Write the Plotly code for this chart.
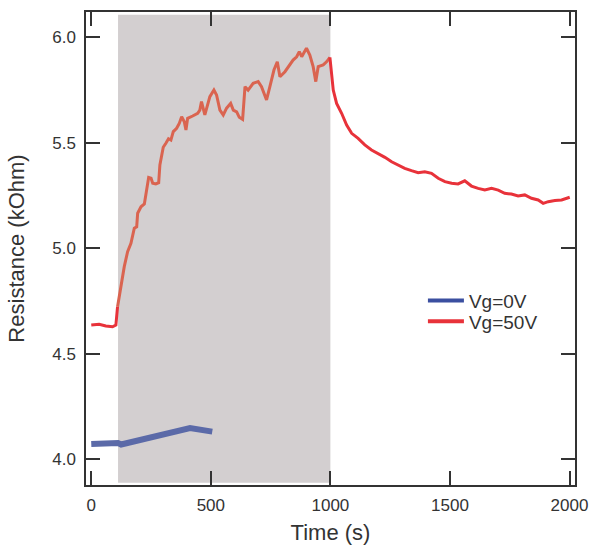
import plotly.graph_objects as go

# ---- data ----
t_red = [0, 33, 61, 89, 103, 110, 124, 138, 152, 166, 180, 190, 194, 208, 222, 229, 240, 250, 257, 270,
         282, 287, 301, 312, 323, 333, 343, 357, 368, 378, 389, 396, 403, 424, 445, 454, 461, 475, 496,
         513, 524, 538, 552, 566, 583, 594, 608, 619, 633, 643, 656, 677, 698, 712, 733, 747, 764, 778,
         789, 810, 831, 844, 859, 870, 880, 900, 914, 928, 939, 949, 970, 984, 998, 1005, 1012, 1026,
         1047, 1068, 1089, 1116, 1144, 1172, 1200, 1228, 1256, 1283, 1311, 1339, 1367, 1395, 1423, 1451,
         1479, 1507, 1534, 1562, 1590, 1618, 1646, 1674, 1702, 1729, 1757, 1785, 1813, 1841, 1869, 1890,
         1911, 1939, 1967, 2001]
r_red = [4.636, 4.640, 4.632, 4.628, 4.636, 4.723, 4.818, 4.913, 4.984, 5.024, 5.095, 5.102, 5.166, 5.197,
         5.210, 5.261, 5.336, 5.332, 5.308, 5.305, 5.311, 5.395, 5.479, 5.498, 5.519, 5.513, 5.553, 5.569,
         5.592, 5.624, 5.600, 5.561, 5.616, 5.627, 5.640, 5.655, 5.695, 5.632, 5.719, 5.750, 5.727, 5.655,
         5.632, 5.664, 5.687, 5.655, 5.647, 5.621, 5.611, 5.766, 5.750, 5.782, 5.790, 5.766, 5.703, 5.766,
         5.845, 5.884, 5.813, 5.837, 5.869, 5.892, 5.908, 5.932, 5.908, 5.948, 5.916, 5.861, 5.790, 5.861,
         5.869, 5.884, 5.905, 5.829, 5.750, 5.687, 5.640, 5.584, 5.545, 5.521, 5.490, 5.466, 5.450, 5.431,
         5.410, 5.395, 5.379, 5.368, 5.358, 5.363, 5.355, 5.332, 5.316, 5.308, 5.305, 5.320, 5.295, 5.284,
         5.276, 5.284, 5.276, 5.261, 5.257, 5.248, 5.253, 5.237, 5.229, 5.213, 5.221, 5.226, 5.229, 5.242]

t_blue = [0, 112, 125, 413, 506]
r_blue = [4.072, 4.077, 4.070, 4.148, 4.131]

shade_start = 112
shade_end = 1000

series_names = ["Vg=0V", "Vg=50V"]
x_ticks = [0, 500, 1000, 1500, 2000]
y_ticks = [4.0, 4.5, 5.0, 5.5, 6.0]

# ---- styles ----
RED = "#e8323a"
SALMON = "#da6450"
BLUE_LINE = "#5b6aa8"
BLUE_LEG = "#3b4fa0"
AX = "#333333"
FONT = "Arial, Liberation Sans, sans-serif"

fig = go.Figure()

# split red series into segments (outside / inside shaded window)
idx_a = [i for i, t in enumerate(t_red) if t <= 110]
idx_b = [i for i, t in enumerate(t_red) if 110 <= t <= 998]
idx_c = [i for i, t in enumerate(t_red) if t >= 998]
for idx, col in [(idx_a, RED), (idx_b, SALMON), (idx_c, RED)]:
    fig.add_trace(go.Scatter(x=[t_red[i] for i in idx], y=[r_red[i] for i in idx],
                             mode="lines", line=dict(color=col, width=3),
                             showlegend=False, hoverinfo="skip"))

fig.add_trace(go.Scatter(x=t_blue, y=r_blue, mode="lines",
                         line=dict(color=BLUE_LINE, width=6), showlegend=False))

# legend entries
fig.add_trace(go.Scatter(x=[None], y=[None], mode="lines", name=series_names[0],
                         line=dict(color=BLUE_LEG, width=4), legend="legend"))
fig.add_trace(go.Scatter(x=[None], y=[None], mode="lines", name=series_names[1],
                         line=dict(color=RED, width=4), legend="legend2"))

fig.add_shape(type="rect", xref="x", yref="paper", x0=shade_start, x1=shade_end,
              y0=0.005, y1=0.994, fillcolor="#d3cfd0", line=dict(width=0), layer="below")

leg_common = dict(xanchor="left", yanchor="top", font=dict(size=19, color=AX),
                  bgcolor="rgba(0,0,0,0)", itemwidth=36)
fig.update_layout(
    width=591, height=546,
    margin=dict(l=86, r=16, t=12, b=61),
    paper_bgcolor="white", plot_bgcolor="white",
    font=dict(family=FONT, color=AX),
    legend=dict(x=0.689, y=0.430, **leg_common),
    legend2=dict(x=0.689, y=0.386, **leg_common),
    showlegend=True,
)
fig.update_xaxes(range=[-22, 2023], tickvals=x_ticks, ticktext=[str(v) for v in x_ticks],
                 automargin=False,
                 showline=True, linecolor=AX, linewidth=1.5, mirror="ticks",
                 ticks="inside", ticklen=14, tickwidth=1.5, tickcolor=AX,
                 showgrid=False, zeroline=False, tickfont=dict(size=17, color=AX),
                 ticklabelstandoff=4,
                 title=dict(text="Time (s)", font=dict(size=22, color=AX), standoff=10))
fig.update_yaxes(range=[3.878, 6.12], tickvals=y_ticks, ticktext=[f"{v:.1f}" for v in y_ticks],
                 automargin=False,
                 showline=True, linecolor=AX, linewidth=1.5, mirror="ticks",
                 ticks="inside", ticklen=14, tickwidth=1.5, tickcolor=AX,
                 showgrid=False, zeroline=False, tickfont=dict(size=17, color=AX),
                 ticklabelstandoff=5,
                 title=dict(text="Resistance (kOhm)", font=dict(size=22, color=AX), standoff=22))

fig.write_html("out.html", config={"displayModeBar": False},
               post_script="document.body.style.margin='0';")
